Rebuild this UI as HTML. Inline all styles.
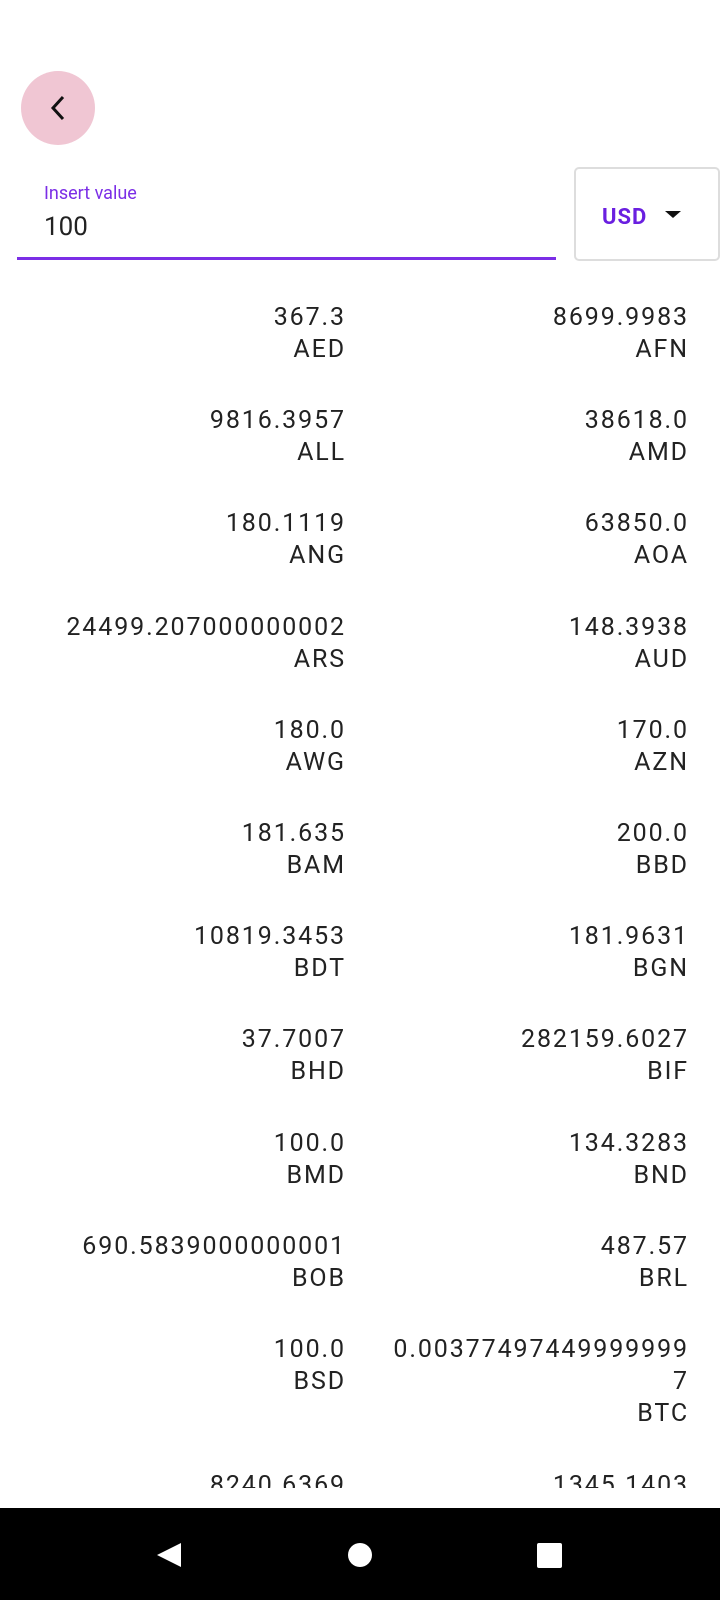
<!DOCTYPE html>
<html><head><meta charset="utf-8"><style>
*{margin:0;padding:0;box-sizing:border-box}
body{width:720px;height:1600px;background:#fff;position:relative;overflow:hidden;font-family:"Roboto","Liberation Sans",sans-serif;color:#222}
.abs{position:absolute}
.cell{position:absolute;text-align:right;font-size:25px;letter-spacing:1.9px;line-height:32px;color:#222}
</style></head><body>
<div class="abs" style="left:21px;top:71px;width:74px;height:74px;border-radius:50%;background:#f0c6d3">
<svg width="74" height="74"><polyline points="42,26 32,37 42,48" fill="none" stroke="#111" stroke-width="3"/></svg></div>
<div class="abs" style="left:44px;top:183px;font-size:18px;color:#7b2ee6">Insert value</div>
<div class="abs" style="left:44px;top:212px;font-size:26px;color:#222">100</div>
<div class="abs" style="left:17px;top:257px;width:539px;height:3px;background:#7b2ee6"></div>
<div class="abs" style="left:574px;top:167px;width:146px;height:94px;border:2px solid #ddd;border-radius:5px">
<span class="abs" style="left:26px;top:36px;font-size:22px;font-weight:bold;color:#6a1fe0;letter-spacing:1px">USD</span>
<svg class="abs" style="left:88px;top:42px" width="18" height="8"><polygon points="1,0 17,0 9,7" fill="#111"/></svg></div>
<div id="list" class="abs" style="left:0;top:270px;width:720px;height:1218px;overflow:hidden"></div>
<div class="abs" style="left:0;top:1508px;width:720px;height:92px;background:#000">
<svg width="720" height="92"><polygon points="157,47 181,35 181,59" fill="#fff"/><circle cx="360" cy="47" r="12" fill="#fff"/><rect x="537" y="35" width="25" height="25" rx="2" fill="#fff"/></svg></div>
<script>
const codes=["AED","AFN","ALL","AMD","ANG","AOA","ARS","AUD","AWG","AZN","BAM","BBD","BDT","BGN","BHD","BIF","BMD","BND","BOB","BRL","BSD","BTC","BTN","BWP"];
const values=["367.3","8699.9983","9816.3957","38618.0","180.1119","63850.0","24499.207000000002","148.3938","180.0","170.0","181.635","200.0","10819.3453","181.9631","37.7007","282159.6027","100.0","134.3283","690.5839000000001","487.57","100.0","0.00377497449999999<br>7","8240.6369","1345.1403"];
const list=document.getElementById('list');
for(let i=0;i<codes.length;i++){
 const row=Math.floor(i/2),col=i%2;
 const d=document.createElement('div');
 d.className='cell';
 
 
 d.style.right=(col?31:374)+'px';
 d.style.top=(32+row*103.2+(row>10?33:0))+'px';
 d.innerHTML=values[i]+'<br>'+codes[i];
 list.appendChild(d);
}
</script>
</body></html>
